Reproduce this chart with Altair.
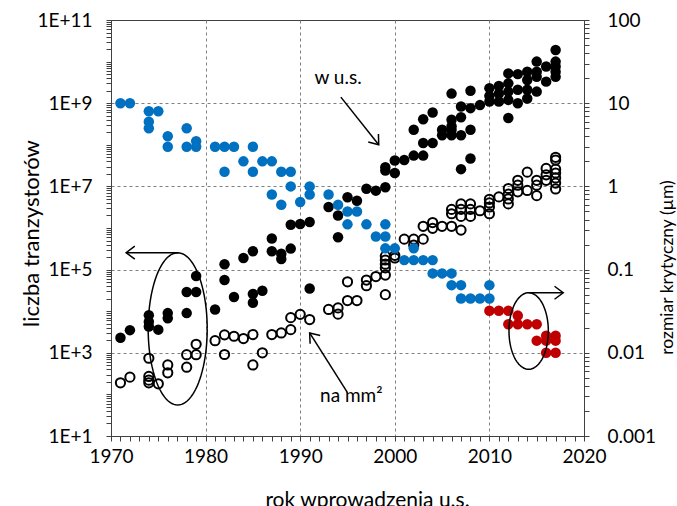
import numpy as np
import pandas as pd
import altair as alt

# Transistors per chip (filled black circles)
chip_years = [1971, 1972, 1974, 1974, 1974, 1975, 1976, 1976, 1978, 1978,
              1979, 1979, 1981, 1982, 1982, 1983, 1984, 1985, 1985, 1985,
              1986, 1987, 1987, 1988, 1988, 1989, 1989, 1990, 1991, 1991,
              1993, 1994, 1994, 1995, 1996, 1997, 1998, 1999, 1999, 1999,
              2000, 2000, 2001, 2002, 2002, 2003, 2003, 2003, 2004, 2004,
              2005, 2005, 2006, 2006, 2006, 2006, 2006, 2007, 2007, 2007,
              2007, 2008, 2008, 2008, 2008, 2009, 2010, 2010, 2010, 2011,
              2011, 2011, 2012, 2012, 2012, 2012, 2012, 2013, 2013, 2013,
              2014, 2014, 2014, 2014, 2015, 2015, 2015, 2015, 2016, 2016,
              2017, 2017, 2017, 2017, 2017]
chip_counts = [2.3e3, 3.5e3, 8.0e3, 5.6e3, 4.3e3, 3.6e3, 9.0e3, 6.8e3, 2.9e4, 9.0e3,
               2.9e4, 7.0e4, 1.1e4, 1.34e5, 5.6e4, 2.2e4, 1.9e5, 2.75e5, 2.6e4, 1.6e4,
               3.1e4, 5.6e5, 2.75e5, 2.4e5, 1.8e5, 1.2e6, 3.2e5, 1.25e6, 1.4e6, 3.5e4,
               3.2e6, 2.0e6, 6.0e5, 5.5e6, 4.5e6, 8.8e6, 7.9e6, 9.5e6, 2.4e7, 2.9e7,
               2.1e7, 4.2e7, 4.3e7, 5.5e7, 2.3e8, 5.5e7, 1.1e8, 4.1e8, 1.1e8, 6.0e8,
               1.7e8, 2.3e8, 1.7e9, 4.0e8, 2.8e8, 2.3e8, 1.7e8, 8.3e8, 4.6e8, 1.7e8,
               2.6e7, 2.0e9, 7.6e8, 2.3e8, 4.7e7, 9.0e8, 2.3e9, 1.5e9, 1.1e9, 2.6e9,
               1.7e9, 1.1e9, 5.2e9, 3.0e9, 1.9e9, 1.2e9, 4.4e8, 5.0e9, 2.1e9, 1.0e9,
               5.7e9, 3.6e9, 2.1e9, 1.3e9, 1.0e10, 5.7e9, 4.3e9, 1.9e9, 7.6e9, 3.3e9,
               1.9e10, 1.0e10, 7.6e9, 5.7e9, 4.3e9]

# Transistors per mm² (open circles)
density_years = [1971, 1972, 1974, 1974, 1974, 1974, 1975, 1976, 1976, 1978,
                 1978, 1979, 1979, 1981, 1982, 1982, 1983, 1984, 1985, 1985,
                 1986, 1987, 1988, 1989, 1989, 1990, 1991, 1993, 1994, 1994,
                 1995, 1995, 1996, 1997, 1997, 1998, 1999, 1999, 1999, 1999,
                 1999, 1999, 2000, 2000, 2001, 2002, 2002, 2003, 2003, 2004,
                 2004, 2005, 2006, 2006, 2006, 2007, 2007, 2007, 2007, 2008,
                 2008, 2008, 2009, 2010, 2010, 2010, 2010, 2011, 2012, 2012,
                 2012, 2012, 2013, 2013, 2013, 2014, 2014, 2015, 2015, 2015,
                 2016, 2016, 2016, 2017, 2017, 2017, 2017, 2017, 2017, 2017]
density_values = [190, 260, 740, 270, 220, 190, 180, 510, 330, 900,
                  450, 1600, 900, 1950, 2700, 910, 2500, 2200, 2750, 510,
                  1000, 2750, 3000, 3600, 7000, 8400, 6300, 1.1e4, 1.2e4, 8.5e3,
                  1.8e4, 5.1e4, 1.8e4, 4.1e4, 5.6e4, 6.8e4, 7.4e4, 2.5e4, 1.1e5, 1.35e5,
                  1.7e5, 2.1e5, 2.2e5, 1.9e5, 5.4e5, 5.4e5, 3.9e5, 5.4e5, 1.1e6, 1.35e6,
                  9.8e5, 1.1e6, 1.1e6, 2.8e6, 2.2e6, 3.8e6, 2.8e6, 1.9e6, 8.9e5, 3.8e6,
                  2.8e6, 1.9e6, 2.6e6, 4.9e6, 4.0e6, 3.2e6, 2.2e6, 5.6e6, 8.9e6, 6.5e6,
                  5.0e6, 3.8e6, 1.4e7, 1.07e7, 7.4e6, 2.2e7, 8.0e6, 1.4e7, 1.07e7, 6.0e6,
                  2.7e7, 1.9e7, 1.4e7, 5.0e7, 4.3e7, 2.6e7, 2.1e7, 1.6e7, 1.2e7, 8.7e6]

# Critical dimension in µm, up to 2010 (blue)
node_years = [1971, 1972, 1974, 1974, 1974, 1975, 1976, 1976, 1978, 1978,
              1979, 1979, 1981, 1982, 1982, 1983, 1984, 1985, 1985, 1986,
              1987, 1987, 1988, 1988, 1989, 1989, 1990, 1991, 1991, 1993,
              1994, 1995, 1995, 1996, 1997, 1998, 1999, 1999, 1999, 2000,
              2001, 2002, 2002, 2003, 2004, 2004, 2005, 2006, 2006, 2007,
              2007, 2008, 2009, 2010, 2010]
node_sizes = [10, 10, 8, 6, 5, 8, 4, 3, 5, 3,
              3.5, 3, 3, 3, 1.5, 3, 2, 3, 1.5, 2,
              2, 0.8, 1.5, 0.6, 1.5, 1.0, 0.65, 1.0, 0.8, 0.8,
              0.6, 0.5, 0.35, 0.5, 0.35, 0.25, 0.35, 0.25, 0.18, 0.18,
              0.13, 0.18, 0.13, 0.13, 0.13, 0.09, 0.09, 0.09, 0.065, 0.065,
              0.045, 0.045, 0.045, 0.065, 0.045]

# Critical dimension in µm, 2010 onwards (red)
recent_years = [2010, 2011, 2012, 2012, 2013, 2013, 2014, 2015, 2015,
                2016, 2016, 2016, 2017, 2017, 2017]
recent_sizes = [0.032, 0.032, 0.032, 0.022, 0.028, 0.022, 0.022, 0.022, 0.014,
                0.016, 0.014, 0.010, 0.016, 0.014, 0.010]

FONT = "Lato"
AXIS_COLOR = "#404040"

chips = pd.DataFrame({"year": chip_years, "value": chip_counts})
density = pd.DataFrame({"year": density_years, "value": density_values})
nodes = pd.DataFrame({"year": node_years, "size": node_sizes})
recent = pd.DataFrame({"year": recent_years, "size": recent_sizes})

# Tick positions: every year on x, every 1..9 x 10^k on the log axes
x_ticks = list(range(1970, 2021))
left_ticks = sorted({float(f"{n}e{k}") for k in range(1, 11) for n in range(1, 10)} | {1e11})
right_ticks = sorted({float(f"{n}e{k}") for k in range(-3, 2) for n in range(1, 10)} | {100.0})

LOG = "(log(datum.value)/LN10)"
DECADE = f"(abs({LOG} - round({LOG})) < 1e-6)"

x_axis = alt.Axis(
    values=x_ticks, format="d",
    labelExpr="datum.value % 10 == 0 ? datum.label : ''",
    labelOverlap=False, labelFlush=False, labelPadding=6,
    tickSize=5, grid=True, gridDash=[3, 3], gridColor="#7f7f7f",
    gridOpacity={"condition": {"test": "datum.value % 10 == 0 && datum.value > 1970 && datum.value < 2020",
                               "value": 1}, "value": 0},
    title="rok wprowadzenia u.s.", titleX=256, titleY=53, titleBaseline="top",
    titleAlign="center", titleFontSize=21,
)

left_axis = alt.Axis(
    values=left_ticks, orient="left",
    labelExpr=f"{DECADE} && round({LOG}) % 2 == 1 ? '1E+' + round({LOG}) : ''",
    labelOverlap=False, labelFlush=False, labelPadding=14,
    tickSize=5, grid=True, gridDash=[3, 3], gridColor="#7f7f7f",
    gridOpacity={"condition": {"test": f"{DECADE} && round({LOG}) % 2 == 1 && datum.value > 100 && datum.value < 1e10",
                               "value": 1}, "value": 0},
    title="liczba tranzystorów", titleX=-80, titleY=213, titleAngle=270,
    titleAlign="center", titleBaseline="middle", titleFontSize=22,
)

right_axis = alt.Axis(
    values=right_ticks, orient="right", format="~g",
    labelExpr=f"{DECADE} ? datum.label : ''",
    labelOverlap=False, labelFlush=False, labelPadding=18,
    tickSize=5, grid=False,
    title="rozmiar krytyczny (µm)", titleX=83, titleY=247, titleAngle=270,
    titleAlign="center", titleBaseline="middle", titleFontSize=17.5,
)

X = alt.X("year:Q", scale=alt.Scale(domain=[1970, 2020], nice=False, zero=False), axis=x_axis)
Y_LEFT = alt.Y("value:Q", scale=alt.Scale(type="log", domain=[10, 1e11], nice=False), axis=left_axis)
Y_RIGHT = alt.Y("size:Q", scale=alt.Scale(type="log", domain=[0.001, 100], nice=False), axis=right_axis)

# Ellipse outlines used to group points
t = np.linspace(0, 2 * np.pi, 97)
left_ring = pd.DataFrame({"year": 1977.05 + 3.12 * np.cos(t),
                          "value": 10 ** (3.575 + 1.83 * np.sin(t)), "t": t})
right_ring = pd.DataFrame({"year": 2014.15 + 2.08 * np.cos(t),
                           "size": 10 ** (-1.738 + 0.46 * np.sin(t)), "t": t})

# Arrow shafts and heads
left_shafts = pd.DataFrame({
    "year": [1977.05, 1994.3, 1995.0],
    "value": [2.55e5, 1.4e9, 110],
    "year2": [1971.6, 1998.3, 1991.0],
    "value2": [2.55e5, 1.0e8, 3.0e3],
})
left_heads = pd.DataFrame({"year": [1971.6, 1998.3, 1991.0],
                           "value": [2.55e5, 1.0e8, 3.0e3],
                           "angle": [180, 51.6, 230.6]})
right_shaft = pd.DataFrame({"year": [2014.15], "size": [0.0527], "year2": [2017.8], "size2": [0.0527]})
right_head = pd.DataFrame({"year": [2017.8], "size": [0.0527], "angle": [0]})

labels = pd.DataFrame({"year": [1994.0, 1995.4], "value": [4.1e9, 91.0],
                       "text": ["w u.s.", "na mm²"]})

CHEVRON = "M -1 -0.75 L 0 0 L -1 0.75"

chip_layer = alt.Chart(chips).mark_circle(size=110, color="black", opacity=1).encode(x=X, y=Y_LEFT)
density_layer = alt.Chart(density).mark_point(
    shape="circle", filled=False, size=85, strokeWidth=2, color="black", opacity=1
).encode(x=X, y=Y_LEFT)
left_ring_layer = alt.Chart(left_ring).mark_line(color="black", strokeWidth=1.5).encode(
    x=X, y=Y_LEFT, order="t:Q")
left_shaft_layer = alt.Chart(left_shafts).mark_rule(color="black", strokeWidth=1.5).encode(
    x=X, y=Y_LEFT, x2="year2:Q", y2="value2:Q")
left_head_layer = alt.Chart(left_heads).mark_point(
    shape=CHEVRON, filled=False, size=300, strokeWidth=1.5, color="black", opacity=1
).encode(x=X, y=Y_LEFT, angle=alt.Angle("angle:Q", scale=None))
label_layer = alt.Chart(labels).mark_text(font=FONT, fontSize=19, color="black").encode(
    x=X, y=Y_LEFT, text="text:N")

left = alt.layer(chip_layer, density_layer, left_ring_layer, left_shaft_layer,
                 left_head_layer, label_layer)

recent_layer = alt.Chart(recent).mark_circle(size=110, color="#c00000", opacity=1).encode(x=X, y=Y_RIGHT)
node_layer = alt.Chart(nodes).mark_circle(size=110, color="#0070c0", opacity=1).encode(x=X, y=Y_RIGHT)
right_ring_layer = alt.Chart(right_ring).mark_line(color="black", strokeWidth=1.5).encode(
    x=X, y=Y_RIGHT, order="t:Q")
right_shaft_layer = alt.Chart(right_shaft).mark_rule(color="black", strokeWidth=1.5).encode(
    x=X, y=Y_RIGHT, x2="year2:Q", y2="size2:Q")
right_head_layer = alt.Chart(right_head).mark_point(
    shape=CHEVRON, filled=False, size=300, strokeWidth=1.5, color="black", opacity=1
).encode(x=X, y=Y_RIGHT, angle=alt.Angle("angle:Q", scale=None))

right = alt.layer(recent_layer, node_layer, right_ring_layer, right_shaft_layer, right_head_layer)

chart = alt.layer(left, right).resolve_scale(y="independent").properties(
    width=473, height=416,
    autosize=alt.AutoSizeParams(type="none"),
    padding={"left": 111, "top": 20, "right": 93, "bottom": 70},
    background="white",
).configure_view(
    stroke=AXIS_COLOR, strokeWidth=1
).configure_axis(
    labelFont=FONT, titleFont=FONT, labelFontSize=19, titleFontSize=20,
    labelColor="black", titleColor="black", titleFontWeight="normal",
    domainColor=AXIS_COLOR, tickColor=AXIS_COLOR, domainWidth=1, tickWidth=1,
)

chart.save("out.html", embed_options={"renderer": "svg", "actions": False})
